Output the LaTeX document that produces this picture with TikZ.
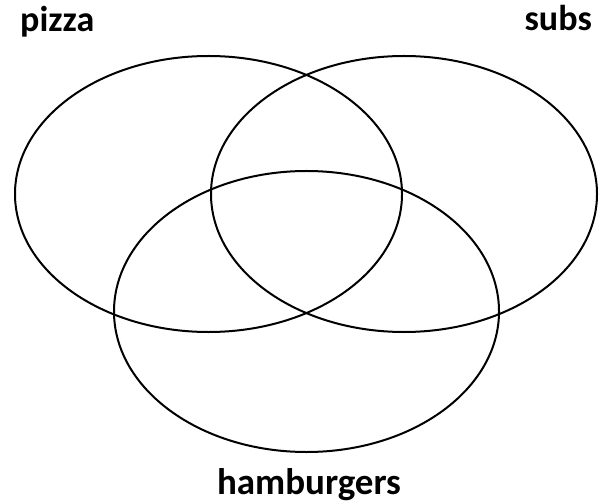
\documentclass[tikz,border=0pt]{standalone}
\usepackage{fontspec}
\setmainfont{Carlito}
\usetikzlibrary{shapes.geometric}
\begin{document}
\begin{tikzpicture}[x=1bp,y=-1bp,
  setring/.style={draw=black,line width=2bp,ellipse,inner sep=0pt},
  lbl/.style={font=\fontsize{36bp}{40bp}\selectfont\bfseries,inner sep=0pt}]
\useasboundingbox[fill=white] (0,0) rectangle (605,503);
\node[setring,minimum width=387bp,minimum height=276bp] (pizzaset) at (208.5,194) {};
\node[setring,minimum width=386bp,minimum height=276bp] (subsset) at (404,194) {};
\node[setring,minimum width=385bp,minimum height=281bp] (hamburgersset) at (306.5,311.5) {};
\node[lbl,anchor=base west] (pizza) at (20,32) {pizza};
\node[lbl,anchor=base east] (subs) at (592,31) {subs};
\node[lbl,anchor=base,font=\fontsize{37bp}{41bp}\selectfont\bfseries] (hamburgers) at (309,494) {hamburgers};
\end{tikzpicture}
\end{document}
